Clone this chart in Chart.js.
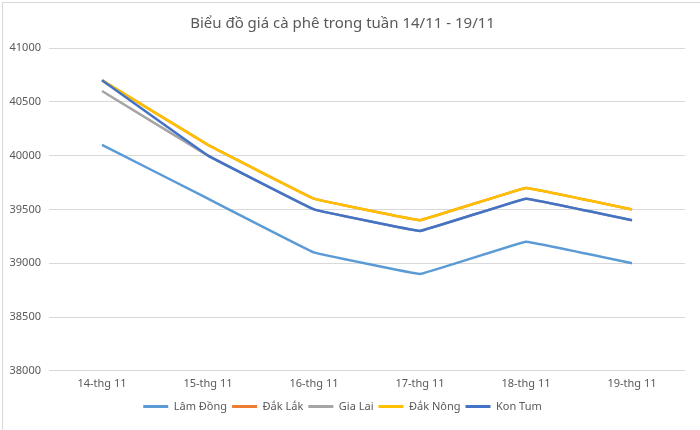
<!DOCTYPE html>
<html>
<head>
<meta charset="utf-8">
<script src="https://cdn.jsdelivr.net/npm/chart.js@4/dist/chart.umd.min.js"></script>
<style>
  html, body { margin: 0; padding: 0; background: #fff; }
  #wrap { position: relative; width: 700px; height: 430px; }
  #frame { position: absolute; left: 2px; top: 2px; right: 0; bottom: 0; border-left: 1px solid #d9d9d9; border-top: 1px solid #d9d9d9; pointer-events: none; }
</style>
</head>
<body>
<div id="wrap">
  <canvas id="giaChart" width="700" height="430"></canvas>
  <div id="frame"></div>
</div>
<script>
// dữ liệu giá cà phê
var ngay = ['14-thg 11', '15-thg 11', '16-thg 11', '17-thg 11', '18-thg 11', '19-thg 11'];
var lamDong = [40100, 39600, 39100, 38900, 39200, 39000];
var dakLak = [40700, 40100, 39600, 39400, 39700, 39500];
var giaLai = [40600, 40000, 39500, 39300, 39600, 39400];
var dakNong = [40700, 40100, 39600, 39400, 39700, 39500];
var konTum = [40700, 40000, 39500, 39300, 39600, 39400];

var chu = '#595959';
var font = "'Noto Sans', 'Open Sans', sans-serif";

function series(label, data, color, order) {
  return {
    label: label,
    data: data,
    borderColor: color,
    backgroundColor: color,
    borderWidth: 2.5,
    pointRadius: 0,
    tension: 0.04,
    fill: false,
    order: order
  };
}

var giaChart = new Chart(document.getElementById('giaChart').getContext('2d'), {
  type: 'line',
  data: {
    labels: ngay,
    datasets: [
      series('Lâm Đồng', lamDong, '#5B9BD5', 5),
      series('Đắk Lắk', dakLak, '#ED7D31', 4),
      series('Gia Lai', giaLai, '#A5A5A5', 3),
      series('Đắk Nông', dakNong, '#FFC000', 2),
      series('Kon Tum', konTum, '#4472C4', 1)
    ]
  },
  options: {
    responsive: false,
    animation: false,
    layout: { padding: { left: 0, right: 15, top: 11, bottom: 8 } },
    scales: {
      x: {
        offset: true,
        grid: { display: false, drawTicks: false },
        border: { display: false },
        ticks: { color: chu, font: { family: font, size: 11 }, maxRotation: 0, padding: 6 }
      },
      y: {
        min: 38000,
        max: 41000,
        border: { display: false },
        grid: { color: '#d9d9d9', drawTicks: false },
        ticks: {
          stepSize: 500, color: chu, font: { family: font, size: 11 }, padding: 8,
          callback: function(v) { return String(v); }
        },
        afterFit: function(s) { s.width = 49; }
      }
    },
    plugins: {
      title: {
        display: true,
        text: 'Biểu đồ giá cà phê trong tuần 14/11 - 19/11',
        color: chu,
        font: { family: font, size: 15, weight: 'normal' },
        padding: { top: 4, bottom: 15 }
      },
      legend: {
        position: 'bottom',
        labels: {
          color: chu,
          font: { family: font, size: 11 },
          boxWidth: 25,
          boxHeight: 3,
          padding: 5,
          sort: function(a, b) { return a.datasetIndex - b.datasetIndex; },
          generateLabels: function(chart) {
            var items = Chart.defaults.plugins.legend.labels.generateLabels(chart);
            items.forEach(function(it) { it.lineWidth = 0; });
            return items;
          }
        }
      },
      tooltip: { enabled: false }
    }
  }
});
</script>
</body>
</html>
